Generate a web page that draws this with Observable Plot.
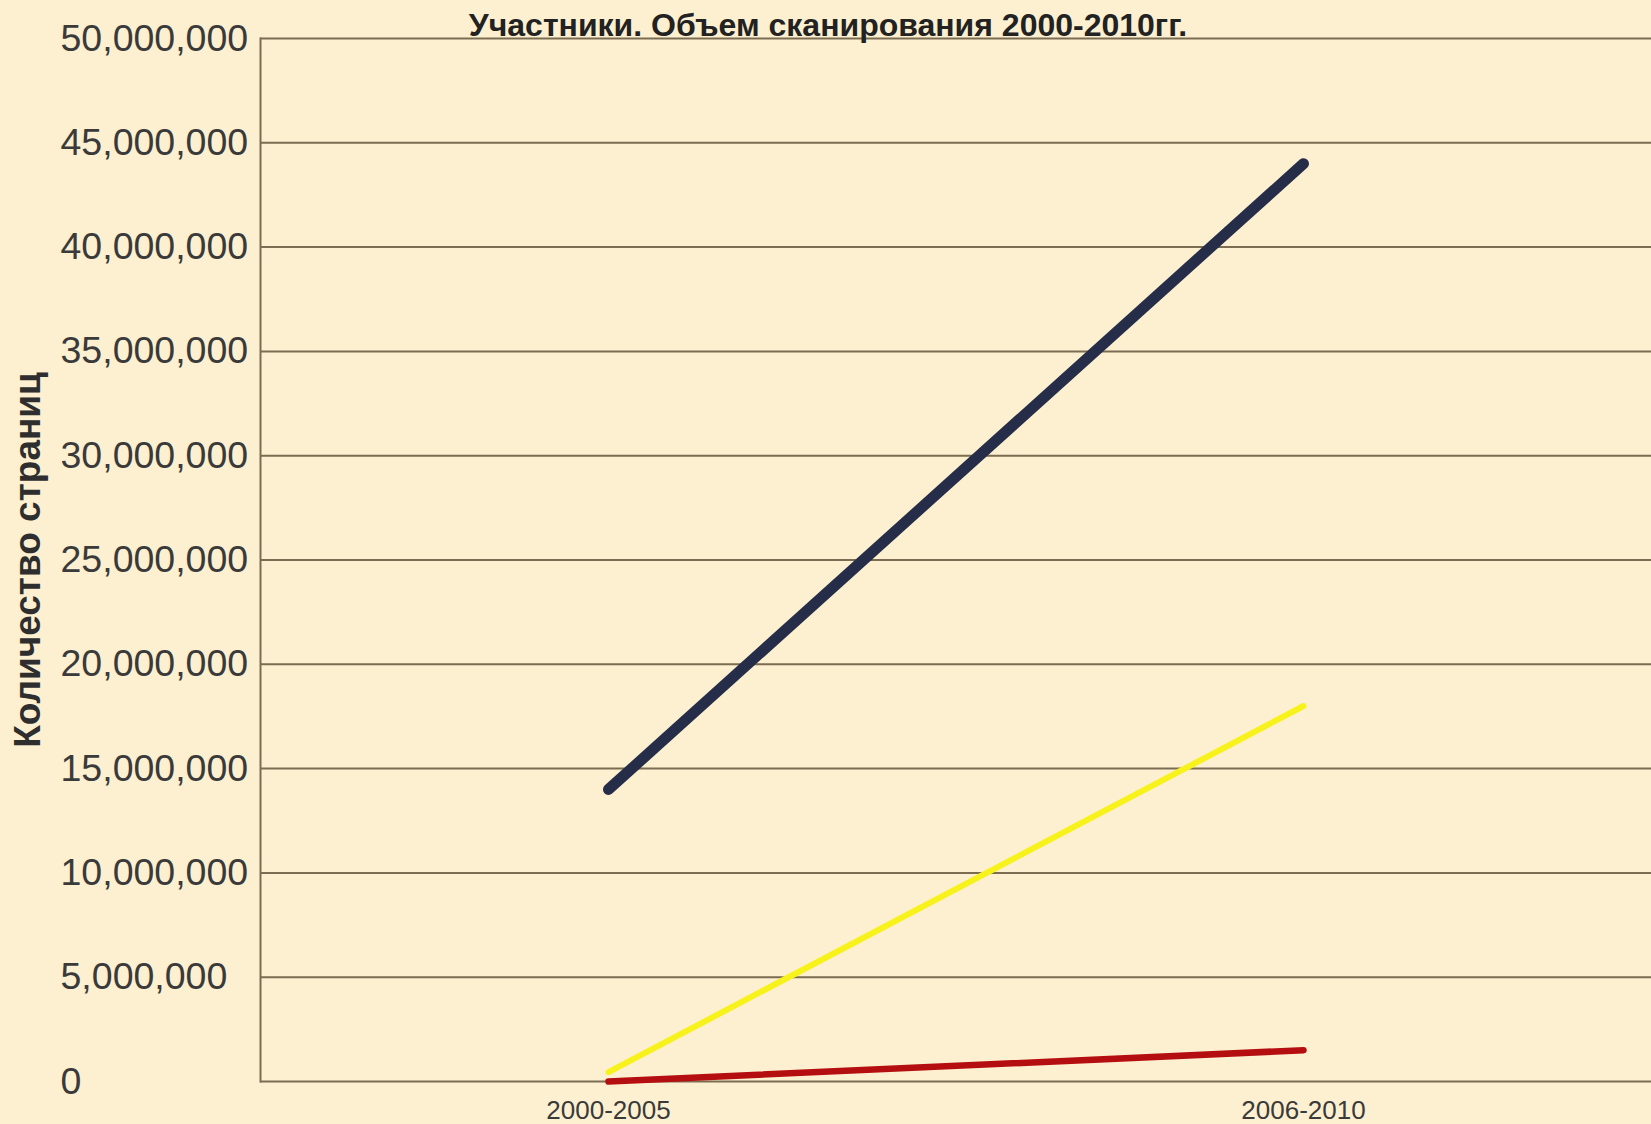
<!DOCTYPE html>
<html>
<head>
<meta charset="utf-8">
<script src="https://cdn.jsdelivr.net/npm/d3@7"></script>
<script src="https://cdn.jsdelivr.net/npm/@observablehq/plot@0.6"></script>
<style>
  html, body { margin: 0; padding: 0; background: #fdf0d0; }
  #chart svg { display: block; }
</style>
</head>
<body>
<div id="chart"></div>
<script>
const title = "Участники. Объем сканирования 2000-2010гг.";
const yLabel = "Количество страниц";
const periods = ["2000-2005", "2006-2010"];
const yTicks = [0, 5000000, 10000000, 15000000, 20000000, 25000000, 30000000, 35000000, 40000000, 45000000, 50000000];
const navyValues = [14000000, 44000000];
const yellowValues = [450000, 18000000];
const redValues = [0, 1500000];

const toRows = (vals) => periods.map((p, i) => ({period: p, value: vals[i]}));

const gridColor = "#7b6c52";
const font = "'Liberation Sans', Arial, sans-serif";

const chart = Plot.plot({
  width: 1651,
  height: 1124,
  marginLeft: 260,
  marginRight: 0,
  marginTop: 38,
  marginBottom: 43,
  style: {background: "#fdf0d0", fontFamily: font, color: "#3a3a3a"},
  x: {type: "point", domain: periods, padding: 0.5},
  y: {domain: [0, 50000000]},
  marks: [
    Plot.ruleY(yTicks, {stroke: gridColor, strokeWidth: 2}),
    Plot.frame({anchor: "left", stroke: gridColor, strokeWidth: 2}),
    Plot.axisY(yTicks, {
      tickSize: 0, tickPadding: 0, dx: -200, textAnchor: "start",
      tickFormat: d3.format(","), fontSize: 37.5, label: null, fill: "#3a3a3a"
    }),
    Plot.axisX({tickSize: 0, tickPadding: 19, fontSize: 26, label: null, fill: "#3a3a3a"}),
    Plot.line(toRows(redValues), {x: "period", y: "value", stroke: "#b50e10", strokeWidth: 6.5}),
    Plot.line(toRows(yellowValues), {x: "period", y: "value", stroke: "#f7f21c", strokeWidth: 6}),
    Plot.line(toRows(navyValues), {x: "period", y: "value", stroke: "#252d48", strokeWidth: 11}),
    Plot.text([yLabel], {
      text: d => d, frameAnchor: "left", textAnchor: "middle", rotate: -90, dx: -232,
      fontSize: 37, fontWeight: "bold", fill: "#2e2e2e"
    }),
    Plot.text([title], {
      text: d => d, frameAnchor: "top", dx: -128, dy: -3, lineAnchor: "bottom",
      fontSize: 32, fontWeight: "bold", fill: "#222"
    })
  ]
});
document.getElementById("chart").appendChild(chart);
</script>
</body>
</html>
